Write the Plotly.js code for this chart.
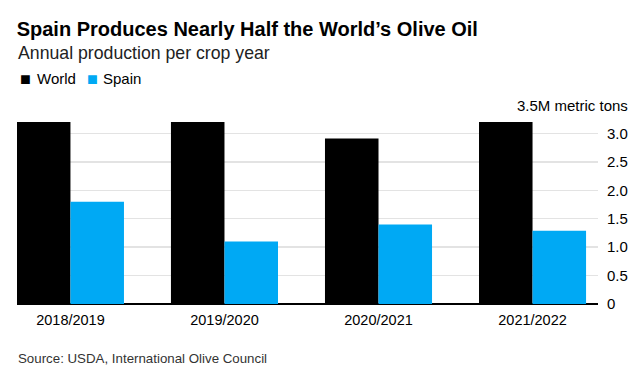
<!DOCTYPE html>
<html>
<head>
<meta charset="utf-8">
<script src="https://cdn.plot.ly/plotly-3.0.1.min.js"></script>
<style>html,body{margin:0;padding:0;background:#fff;}#chart{width:642px;height:384px;}</style>
</head>
<body>
<div id="chart"></div>
<script>
var cropYears = ["2018/2019", "2019/2020", "2020/2021", "2021/2022"];
var worldProduction = [3.20, 3.20, 2.91, 3.20];
var spainProduction = [1.80, 1.10, 1.40, 1.29];
var yTickVals = [0, 0.5, 1, 1.5, 2, 2.5, 3];
var yTickText = ["0", "0.5", "1.0", "1.5", "2.0", "2.5", "3.0"];
var seriesNames = ["World", "Spain"];
var seriesColors = ["#000000", "#00A9F4"];

var FONT = "Liberation Sans, Arial, Helvetica, sans-serif";

var traces = [
  {type: "bar", name: seriesNames[0], x: cropYears, y: worldProduction,
   marker: {color: seriesColors[0]}, hoverinfo: "skip"},
  {type: "bar", name: seriesNames[1], x: cropYears, y: spainProduction,
   marker: {color: seriesColors[1]}, hoverinfo: "skip"}
];

// legend drawn as text annotations (square + label)
var legendSquareX = [0.002, 0.117];
var legendLabelX = [0.031, 0.144];
var legendAnns = [];
seriesNames.forEach(function (n, i) {
  legendAnns.push({text: "■", xref: "paper", yref: "paper", x: legendSquareX[i], y: 1.133,
    xanchor: "left", yanchor: "middle", showarrow: false,
    font: {size: 18, family: FONT, color: seriesColors[i]}});
  legendAnns.push({text: n, xref: "paper", yref: "paper", x: legendLabelX[i], y: 1.131,
    xanchor: "left", yanchor: "middle", showarrow: false,
    font: {size: 15, family: FONT, color: "#000"}});
});

var layout = {
  width: 642, height: 384,
  margin: {l: 17, r: 44, t: 105, b: 80},
  paper_bgcolor: "#fff", plot_bgcolor: "#fff",
  font: {family: FONT, color: "#000", size: 14},
  barmode: "group", bargap: 0.305, bargroupgap: 0,
  showlegend: false,
  title: {text: "<b>Spain Produces Nearly Half the World’s Olive Oil</b>",
          x: 0.026, xref: "container", xanchor: "left", y: 0.925, yref: "container", yanchor: "middle",
          font: {size: 20, family: FONT, color: "#000"}},
  xaxis: {type: "category", range: [-0.347, 3.425], showgrid: false,
          showline: false, zeroline: false, ticks: "", ticklabelstandoff: 5,
          tickfont: {size: 14.5, family: FONT, color: "#000"}, fixedrange: true},
  yaxis: {side: "right", range: [0, 3.5], tickvals: yTickVals.concat([3.5]), ticktext: yTickText.concat([""]),
          showgrid: true, gridcolor: "#e3e3e3", gridwidth: 1.5, zeroline: true, zerolinecolor: "#000",
          zerolinewidth: 1.5, ticks: "", ticklabelstandoff: 8, tickfont: {size: 15, color: "#000"},
          showline: false, fixedrange: true},
  annotations: [
    {text: "Annual production per crop year", xref: "paper", yref: "paper",
     x: -0.001, y: 1.261, xanchor: "left", yanchor: "middle", showarrow: false,
     font: {size: 17.7, family: FONT, color: "#222"}},
    {text: "3.5M metric tons", xref: "paper", yref: "y", x: 1.055, y: 3.5,
     xanchor: "right", yanchor: "middle", showarrow: false, bgcolor: "#fff",
     font: {size: 15, family: FONT, color: "#000"}},
    {text: "Source: USDA, International Olive Council", xref: "paper", yref: "paper",
     x: -0.001, y: -0.276, xanchor: "left", yanchor: "middle", showarrow: false,
     font: {size: 13.3, family: FONT, color: "#333"}}
  ].concat(legendAnns)
};

Plotly.newPlot("chart", traces, layout, {displayModeBar: false, staticPlot: true});
</script>
</body>
</html>
